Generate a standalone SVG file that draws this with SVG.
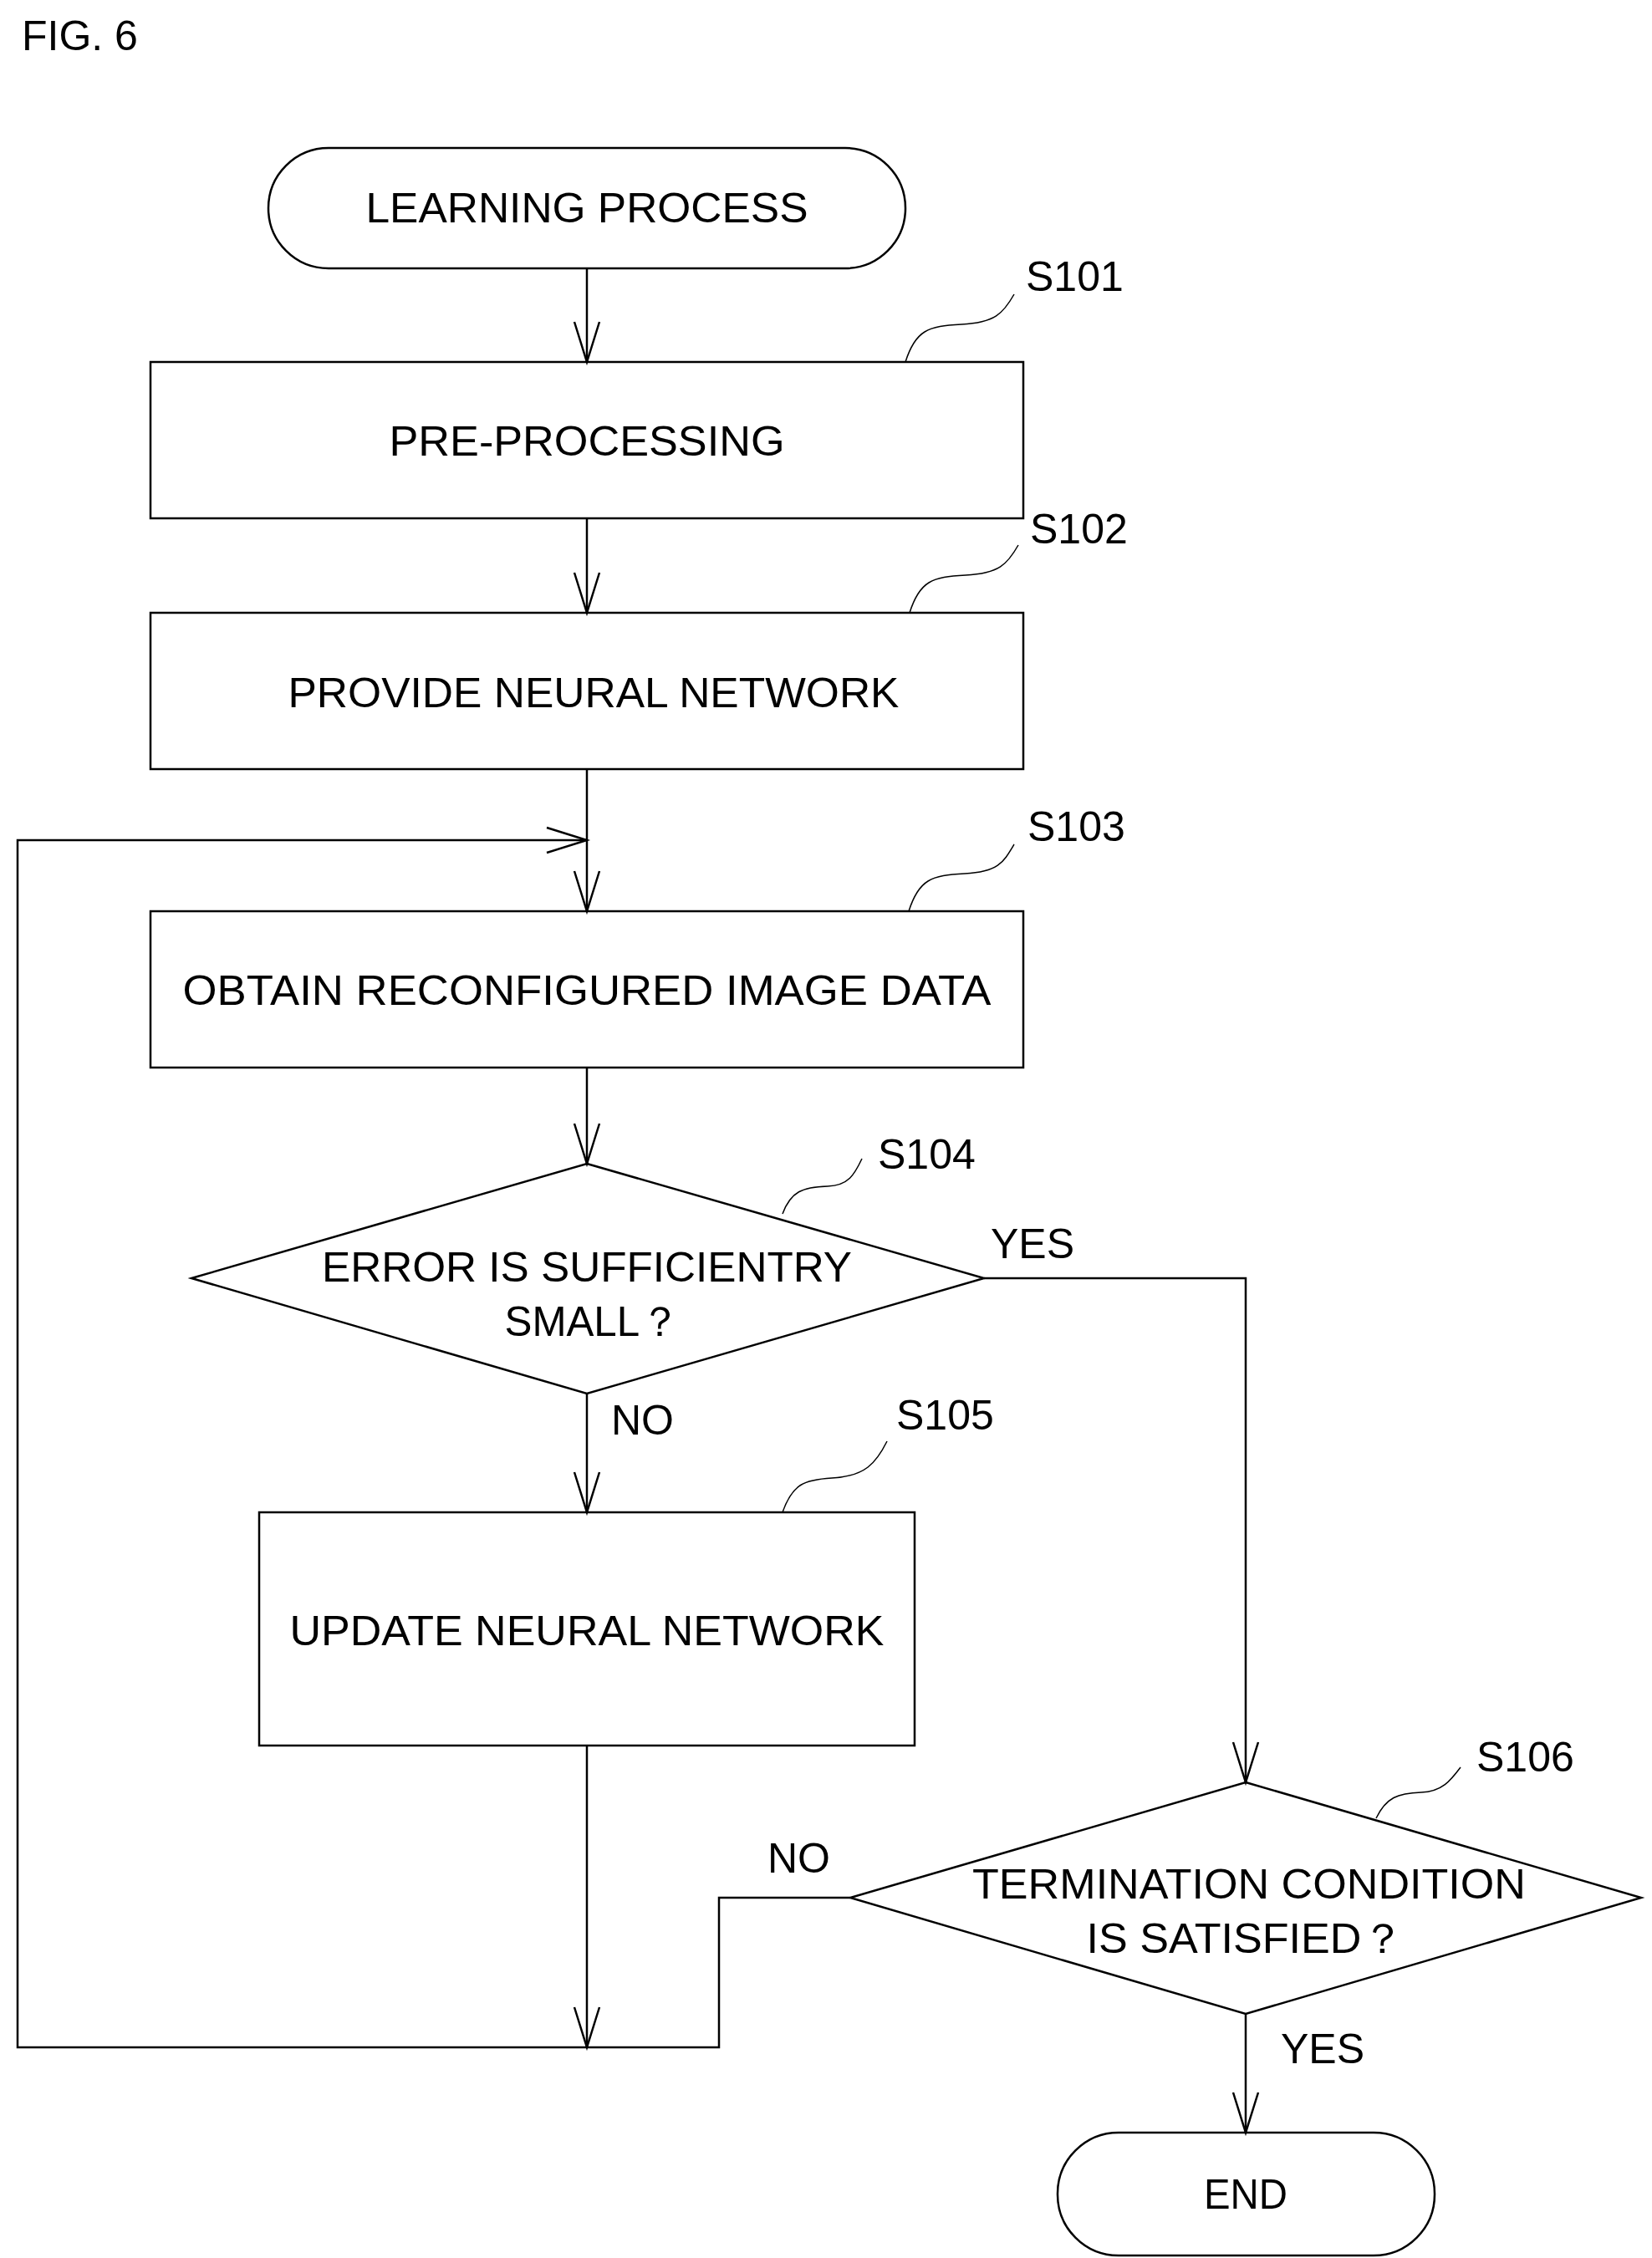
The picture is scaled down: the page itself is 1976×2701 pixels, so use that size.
<svg xmlns="http://www.w3.org/2000/svg" width="1976" height="2701" viewBox="0 0 1976 2701">
<style>
.s{fill:#fff;stroke:#000;stroke-width:2.5}
.l{fill:none;stroke:#000;stroke-width:2.5}
.q{fill:none;stroke:#000;stroke-width:1.5}
text{font-family:"Liberation Sans",Arial,sans-serif;font-size:50px;fill:#000}
.c{text-anchor:middle}
</style>
<defs>
<marker id="a" markerUnits="userSpaceOnUse" markerWidth="60" markerHeight="40" viewBox="-50 -20 52 40" refX="0" refY="0" orient="auto">
<path d="M-48,-15 L0,0 L-48,15" fill="none" stroke="#000" stroke-width="2.5"/>
</marker>
</defs>
<text x="26" y="60">FIG. 6</text>
<g id="start"><rect class="s" x="321" y="177" width="762" height="144" rx="72"/><text class="c" x="702" y="266" textLength="529" lengthAdjust="spacingAndGlyphs">LEARNING PROCESS</text></g>
<g id="s101"><rect class="s" x="180" y="433" width="1044" height="187"/><text class="c" x="702" y="545" textLength="473" lengthAdjust="spacingAndGlyphs">PRE-PROCESSING</text>
<path class="q" d="M1083,433 C1095,395 1110,390 1150,388 C1190,386 1200,375 1213,352"/><text x="1227" y="348">S101</text></g>
<g id="s102"><rect class="s" x="180" y="733" width="1044" height="187"/><text class="c" x="710" y="846" textLength="731" lengthAdjust="spacingAndGlyphs">PROVIDE NEURAL NETWORK</text>
<path class="q" d="M1088,733 C1100,695 1115,690 1155,688 C1195,686 1205,675 1218,652"/><text x="1232" y="650">S102</text></g>
<g id="s103"><rect class="s" x="180" y="1090" width="1044" height="187"/><text class="c" x="702" y="1202" textLength="967" lengthAdjust="spacingAndGlyphs">OBTAIN RECONFIGURED IMAGE DATA</text>
<path class="q" d="M1087,1090 C1099,1052 1114,1047 1154,1045 C1194,1043 1200,1032 1213,1010"/><text x="1229" y="1006">S103</text></g>
<g id="s104"><path class="s" d="M702,1392 L1177,1529 L702,1667 L229,1529 Z"/><text class="c" x="702" y="1533" textLength="634" lengthAdjust="spacingAndGlyphs">ERROR IS SUFFICIENTRY</text><text class="c" x="709" y="1598" textLength="211" lengthAdjust="spacingAndGlyphs">SMALL？</text>
<path class="q" d="M936,1452 C946,1425 960,1420 990,1419 C1015,1418 1022,1405 1031,1386"/><text x="1050" y="1398">S104</text></g>
<g id="s105"><rect class="s" x="310" y="1809" width="784" height="279"/><text class="c" x="702" y="1968" textLength="711" lengthAdjust="spacingAndGlyphs">UPDATE NEURAL NETWORK</text>
<path class="q" d="M936,1809 C948,1775 962,1770 995,1768 C1035,1766 1048,1750 1061,1724"/><text x="1072" y="1710">S105</text></g>
<g id="s106"><path class="s" d="M1490,2132 L1963,2270 L1490,2409 L1017,2270 Z"/><text class="c" x="1494" y="2271" textLength="662" lengthAdjust="spacingAndGlyphs">TERMINATION CONDITION</text><text class="c" x="1490" y="2336" textLength="381" lengthAdjust="spacingAndGlyphs">IS SATISFIED？</text>
<path class="q" d="M1646,2175 C1658,2150 1672,2145 1700,2144 C1725,2143 1735,2130 1747,2114"/><text x="1766" y="2119">S106</text></g>
<g id="end"><rect class="s" x="1265" y="2551" width="451" height="147" rx="73"/><text class="c" x="1490" y="2642" textLength="100" lengthAdjust="spacingAndGlyphs">END</text></g>
<g id="connectors">
<path class="l" d="M702,321 V433" marker-end="url(#a)"/>
<path class="l" d="M702,620 V733" marker-end="url(#a)"/>
<path class="l" d="M702,920 V1090" marker-end="url(#a)"/>
<path class="l" d="M702,1277 V1392" marker-end="url(#a)"/>
<path class="l" d="M702,1667 V1809" marker-end="url(#a)"/>
<path class="l" d="M1177,1529 H1490 V2132" marker-end="url(#a)"/>
<path class="l" d="M702,2088 V2449" marker-end="url(#a)"/>
<path class="l" d="M1017,2270 H860 V2449 H21 V1005 H702" marker-end="url(#a)"/>
<path class="l" d="M1490,2409 V2551" marker-end="url(#a)"/>
<text x="1185" y="1505">YES</text>
<text x="731" y="1716">NO</text>
<text x="918" y="2240">NO</text>
<text x="1532" y="2468">YES</text>
</g>
</svg>
